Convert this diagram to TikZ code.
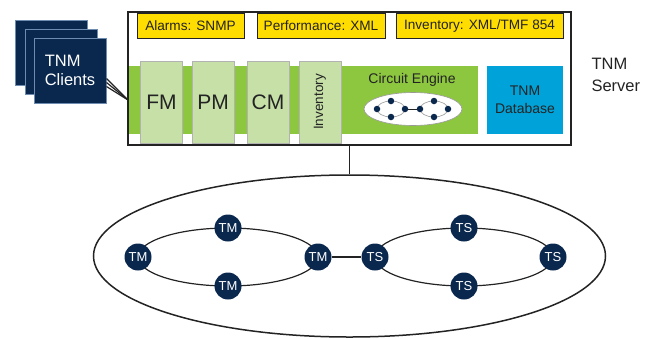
\documentclass[tikz,border=0pt]{standalone}
\usepackage{fontspec}
\setmainfont{Liberation Sans}
\usetikzlibrary{positioning,shapes.geometric}
\definecolor{navy}{RGB}{10,40,78}
\definecolor{clientedge}{RGB}{110,140,175}
\definecolor{protoyellow}{RGB}{255,221,0}
\definecolor{bandgreen}{RGB}{141,198,63}
\definecolor{modgreen}{RGB}{198,224,168}
\definecolor{dbblue}{RGB}{0,163,217}
\definecolor{ink}{RGB}{35,35,35}

\begin{document}
\begin{tikzpicture}[x=1pt,y=-1pt,
  client/.style={draw=clientedge,fill=navy,line width=1pt,minimum width=72pt,minimum height=65pt,inner sep=0pt},
  proto/.style={draw=ink,fill=protoyellow,line width=0.8pt,minimum height=25pt,inner sep=0pt,text=ink,font=\fontsize{13.6}{15}\selectfont},
  module/.style={draw=black!30,fill=modgreen,line width=0.8pt,minimum width=42pt,minimum height=82pt,inner sep=0pt,text=ink},
  ringnode/.style={circle,fill=navy,text=white,minimum size=27pt,inner sep=0pt,font=\fontsize{13}{13}\selectfont},
  dot/.style={circle,fill=navy,minimum size=6.5pt,inner sep=0pt},
  link/.style={line width=1.2pt,draw=ink}]
\useasboundingbox (0,0) rectangle (648,338);

\node[client] (cl1) at (51,52.5) {};
\node[client] (cl2) at (61,61.5) {};
\node[client,align=left,text=white,font=\fontsize{16.5}{19}\selectfont] (cl3) at (70,70.5) {TNM\\Clients};

\node[draw=ink,line width=2pt,minimum width=443pt,minimum height=133pt,inner sep=0pt] (server) at (349.5,78.5) {};
\coordinate (cin) at (128,100);
\draw[link] ([yshift=-8pt]cl3.east) -- (cin);
\draw[link] ([yshift=-12pt]cl3.east) -- (cin);
\draw[link] ([yshift=-16pt]cl3.east) -- (cin);

\node[proto,minimum width=107pt] (alarms) at (190.5,25.5) {Alarms: SNMP};
\node[proto,minimum width=128pt] (perf) at (321,25.5) {Performance: XML};
\node[proto,minimum width=167pt] (invproto) at (479.5,25.5) {Inventory: XML/TMF 854};

\fill[bandgreen] (129,66) rectangle (478,134);
\node[module,font=\fontsize{21}{21}\selectfont] (fm) at (161.5,102) {FM};
\node[module,font=\fontsize{21}{21}\selectfont] (pm) at (213,102) {PM};
\node[module,font=\fontsize{21}{21}\selectfont] (cm) at (268,102) {CM};
\node[module] (inv) at (320,102) {};
\node[rotate=90,text=ink,font=\fontsize{13.5}{15}\selectfont] (invlabel) at (inv) {Inventory};

\node[text=ink,font=\fontsize{14}{16}\selectfont] (celabel) at (412,80) {Circuit Engine};
\node[ellipse,draw=black!40,fill=white,line width=0.6pt,minimum width=98pt,minimum height=33pt] (ce) at (413,109) {};
\draw[black!40,line width=0.6pt] (391,109) ellipse (14 and 8);
\draw[black!40,line width=0.6pt] (434,109) ellipse (14 and 8);
\node[dot] (cw1) at (377,109) {};
\node[dot] (cn1) at (391,101) {};
\node[dot] (cs1) at (391,117) {};
\node[dot] (ce1) at (405,109) {};
\node[dot] (cw2) at (420,109) {};
\node[dot] (cn2) at (434,101) {};
\node[dot] (cs2) at (434,117) {};
\node[dot] (ce2) at (448,109) {};
\draw[ink,line width=0.9pt] (ce1) -- (cw2);

\node[fill=dbblue,minimum width=76pt,minimum height=68pt,align=center,text=ink,font=\fontsize{14}{18}\selectfont] (db) at (525,100) {TNM\\Database};
\node[anchor=west,align=left,text=ink,font=\fontsize{16.5}{22}\selectfont] (srvlabel) at (588,75) {TNM\\Server};

\node[ellipse,draw=ink,line width=1.5pt,minimum width=512pt,minimum height=162pt] (net) at (349.5,256) {};
\draw[link,line width=1.6pt] (server.south) -- (net.north);

\draw[link] (228,257) ellipse (90 and 29);
\draw[link] (464,257) ellipse (89 and 29);
\node[ringnode] (tmW) at (138,257) {TM};
\node[ringnode] (tmN) at (228,228) {TM};
\node[ringnode] (tmS) at (228,286) {TM};
\node[ringnode] (tmE) at (318,257) {TM};
\node[ringnode] (tsW) at (375,257) {TS};
\node[ringnode] (tsN) at (464,228) {TS};
\node[ringnode] (tsS) at (464,286) {TS};
\node[ringnode] (tsE) at (553,257) {TS};
\draw[ink,line width=2.2pt] (tmE) -- (tsW);
\end{tikzpicture}
\end{document}
